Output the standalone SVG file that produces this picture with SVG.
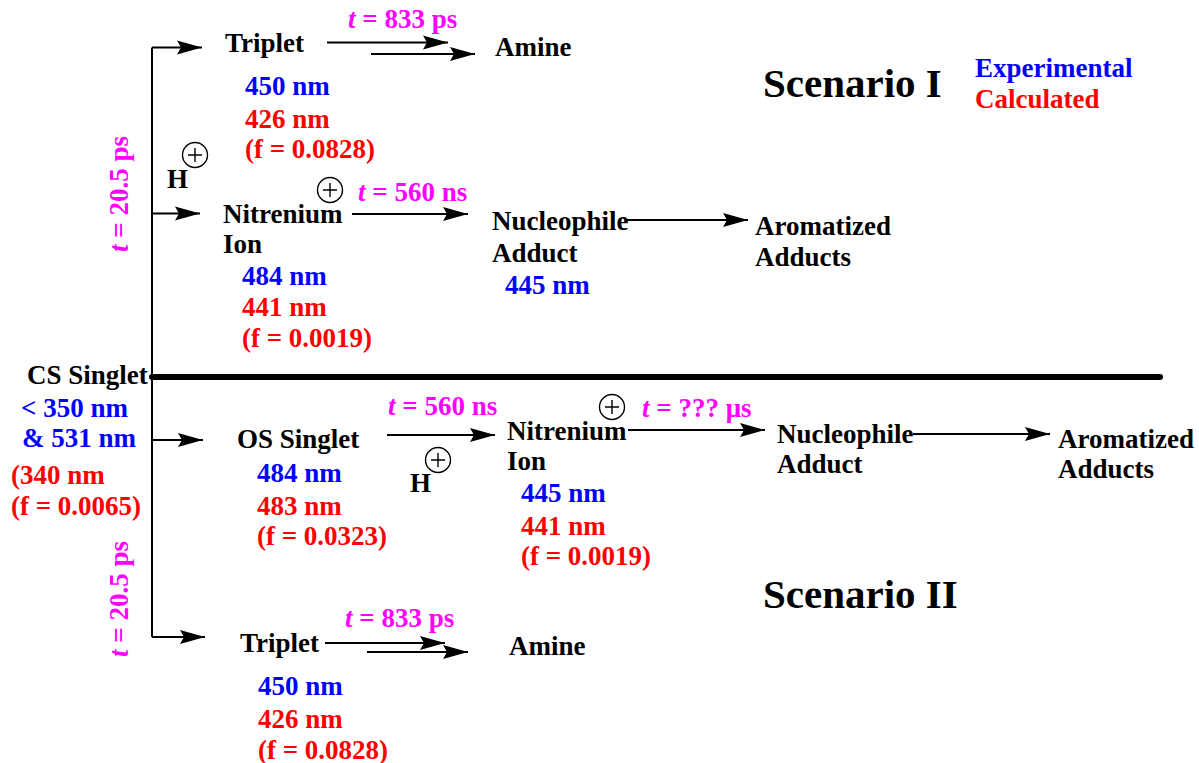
<svg xmlns="http://www.w3.org/2000/svg" width="1199" height="763" viewBox="0 0 1199 763">
<style>
text{font-family:"Liberation Serif","Times New Roman",serif;font-weight:bold;font-size:27px}
.k{fill:#000}.b{fill:#0000ff}.r{fill:#ff0000}.m{fill:#ff00ff}
.big{font-size:41px}
.ln{stroke:#000;stroke-width:2;fill:none}
.arr{stroke:#000;stroke-width:2;fill:none;marker-end:url(#ah)}
.circ{stroke:#000;stroke-width:1.4;fill:none}
.it{font-style:italic}
</style>
<defs>
<marker id="ah" markerUnits="userSpaceOnUse" markerWidth="27" markerHeight="16" refX="25" refY="8" orient="auto" overflow="visible">
<path d="M0,1 L25,8 L0,15 L4,8 Z" fill="#000"/>
</marker>
<g id="plus">
<circle class="circ" r="12.5"/>
<path d="M-7,0 H7 M0,-7 V7" stroke="#000" stroke-width="1.4"/>
</g>
</defs>
<rect width="1199" height="763" fill="#fff"/>

<g id="connectors">
<path class="ln" d="M152,47.5 V637"/>
<path class="arr" d="M152,47.5 H202"/>
<path class="arr" d="M327,42.5 H448"/>
<path class="arr" d="M371,54 H475"/>
<path class="arr" d="M152,213.5 H200"/>
<path class="arr" d="M352,214 H468"/>
<path class="arr" d="M627,220 H748"/>
<line x1="152" y1="377" x2="1160" y2="377" stroke="#000" stroke-width="6" stroke-linecap="round"/>
<path class="arr" d="M152,440 H203"/>
<path class="arr" d="M387,435 H495"/>
<path class="arr" d="M628,430 H765"/>
<path class="arr" d="M913,434 H1050"/>
<path class="arr" d="M152,637 H205"/>
<path class="arr" d="M325,643 H445"/>
<path class="arr" d="M367,652 H468"/>
</g>

<g id="legend">
<text class="b" x="975" y="77">Experimental</text>
<text class="r" x="975" y="108">Calculated</text>
</g>
<g id="scenario1"><text class="k big" x="763" y="97">Scenario I</text></g>
<g id="scenario2"><text class="k big" x="763" y="608">Scenario II</text></g>

<g id="cs-singlet">
<text class="k" x="27" y="384">CS Singlet</text>
<text class="b" x="21" y="417">&lt; 350 nm</text>
<text class="b" x="22" y="447">&amp; 531 nm</text>
<text class="r" x="11" y="484">(340 nm</text>
<text class="r" x="11" y="515">(f = 0.0065)</text>
</g>

<g id="label-t1"><text class="m" transform="translate(128,252) rotate(-90)"><tspan class="it">t</tspan> = 20.5 ps</text></g>
<g id="label-t2"><text class="m" transform="translate(128,657) rotate(-90)"><tspan class="it">t</tspan> = 20.5 ps</text></g>

<g id="triplet-1">
<text class="k" x="225" y="52">Triplet</text>
<text class="b" x="245" y="95">450 nm</text>
<text class="r" x="245" y="128">426 nm</text>
<text class="r" x="245" y="158">(f = 0.0828)</text>
</g>
<g id="rate-833-1"><text class="m" x="348" y="28"><tspan class="it">t</tspan> = 833 ps</text></g>
<g id="amine-1"><text class="k" x="495" y="56">Amine</text></g>

<g id="hplus-1">
<use href="#plus" x="195" y="155"/>
<text class="k" x="167" y="188">H</text>
</g>

<g id="nitrenium-1">
<text class="k" x="223" y="223">Nitrenium</text>
<text class="k" x="223" y="253">Ion</text>
<text class="b" x="242" y="285">484 nm</text>
<text class="r" x="242" y="316">441 nm</text>
<text class="r" x="242" y="347">(f = 0.0019)</text>
<use href="#plus" x="330" y="190"/>
</g>
<g id="rate-560-1"><text class="m" x="358" y="201"><tspan class="it">t</tspan> = 560 ns</text></g>

<g id="nucleophile-1">
<text class="k" x="492" y="230">Nucleophile</text>
<text class="k" x="492" y="262">Adduct</text>
<text class="b" x="505" y="294">445 nm</text>
</g>
<g id="aromatized-1">
<text class="k" x="755" y="235">Aromatized</text>
<text class="k" x="755" y="266">Adducts</text>
</g>

<g id="os-singlet">
<text class="k" x="237" y="448">OS Singlet</text>
<text class="b" x="257" y="482">484 nm</text>
<text class="r" x="257" y="515">483 nm</text>
<text class="r" x="257" y="545">(f = 0.0323)</text>
</g>
<g id="rate-560-2"><text class="m" x="388" y="415"><tspan class="it">t</tspan> = 560 ns</text></g>
<g id="hplus-2">
<use href="#plus" x="438" y="460"/>
<text class="k" x="410" y="492">H</text>
</g>

<g id="nitrenium-2">
<text class="k" x="507" y="440">Nitrenium</text>
<text class="k" x="507" y="470">Ion</text>
<text class="b" x="521" y="502">445 nm</text>
<text class="r" x="521" y="535">441 nm</text>
<text class="r" x="521" y="565">(f = 0.0019)</text>
<use href="#plus" x="612" y="407"/>
</g>
<g id="rate-unk"><text class="m" x="642" y="417"><tspan class="it">t</tspan> = ??? μs</text></g>

<g id="nucleophile-2">
<text class="k" x="777" y="443">Nucleophile</text>
<text class="k" x="777" y="473">Adduct</text>
</g>
<g id="aromatized-2">
<text class="k" x="1058" y="448">Aromatized</text>
<text class="k" x="1058" y="478">Adducts</text>
</g>

<g id="triplet-2">
<text class="k" x="240" y="652">Triplet</text>
<text class="b" x="258" y="695">450 nm</text>
<text class="r" x="258" y="728">426 nm</text>
<text class="r" x="258" y="759">(f = 0.0828)</text>
</g>
<g id="rate-833-2"><text class="m" x="345" y="627"><tspan class="it">t</tspan> = 833 ps</text></g>
<g id="amine-2"><text class="k" x="509" y="655">Amine</text></g>
</svg>
